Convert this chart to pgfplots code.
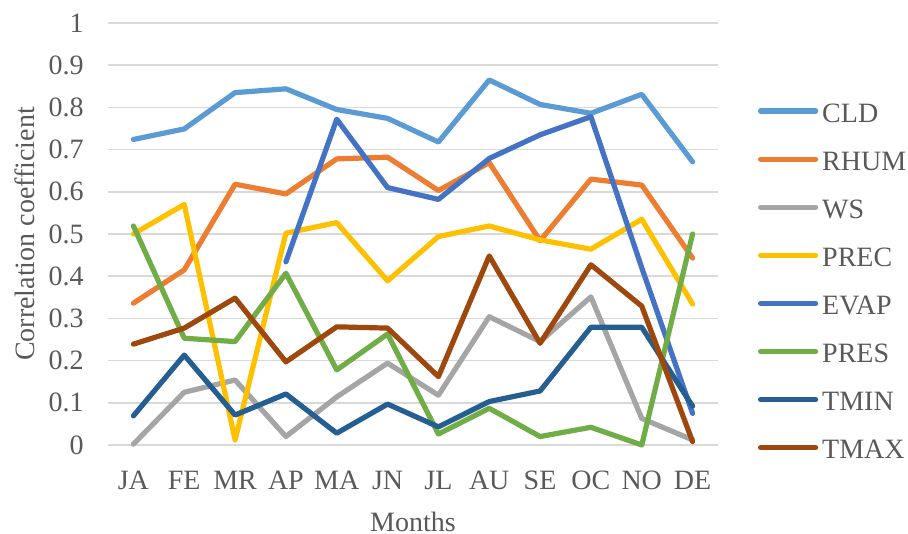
\documentclass[border=0pt]{standalone}
\usepackage{fontspec}
\setmainfont{Liberation Serif}
\usepackage{pgfplots}
\pgfplotsset{compat=1.18}

\definecolor{cCLD}{HTML}{5B9BD5}
\definecolor{cRHUM}{HTML}{ED7D31}
\definecolor{cWS}{HTML}{A5A5A5}
\definecolor{cPREC}{HTML}{FFC000}
\definecolor{cEVAP}{HTML}{4472C4}
\definecolor{cPRES}{HTML}{70AD47}
\definecolor{cTMIN}{HTML}{255E91}
\definecolor{cTMAX}{HTML}{9E480E}
\definecolor{txtgray}{HTML}{595959}
\definecolor{gridgray}{HTML}{D9D9D9}

\newcommand{\chartfont}{\fontsize{14bp}{16bp}\selectfont}

\begin{document}
\begin{tikzpicture}
\path[use as bounding box] (-54bp,-44.5bp) rectangle (400bp,222.5bp);
\begin{axis}[
  at={(0,0)}, anchor=south west,
  scale only axis,
  width=305bp, height=211bp,
  xmin=-0.5, xmax=11.5,
  ymin=0, ymax=1,
  clip=false,
  xtick={0,...,11},
  xticklabels={JA,FE,MR,AP,MA,JN,JL,AU,SE,OC,NO,DE},
  ytick={0,0.1,0.2,0.3,0.4,0.5,0.6,0.7,0.8,0.9,1},
  /pgf/number format/fixed,
  /pgf/number format/precision=1,
  /pgf/number format/assume math mode=true,
  axis line style={draw=none},
  major tick length=0pt,
  ymajorgrids,
  major grid style={color=gridgray, line width=0.75bp},
  tick label style={font=\chartfont, text=txtgray, inner sep=0pt},
  xticklabel style={anchor=base, yshift=-22bp},
  yticklabel style={anchor=east, xshift=-12bp},
  xlabel={Months},
  ylabel={Correlation coefficient},
  label style={font=\chartfont, text=txtgray, inner sep=0pt},
  xlabel style={at={(axis description cs:0.5,0)}, anchor=base, yshift=-43bp},
  ylabel style={at={(axis description cs:-0.1213,0.5)}, anchor=base},
  every axis plot/.append style={line width=2.6bp, line cap=round, line join=round},
  legend cell align=left,
  legend style={
    at={(axis description cs:1.0656,0.8123)}, anchor=north west,
    draw=none, fill=none, inner sep=0pt, outer sep=0pt,
    font=\chartfont, text=txtgray,
    nodes={inner sep=0pt, text height=10bp, text depth=0bp},
    row sep=14.05bp,
    /tikz/every odd column/.style={column sep=2bp},
  },
  legend image code/.code={\draw[#1, line width=2.6bp, line cap=round] (0bp,0.6bp) -- (27.5bp,0.6bp);},
]
\addplot[color=cCLD] coordinates {(0,0.724) (1,0.749) (2,0.835) (3,0.844) (4,0.795) (5,0.774) (6,0.718) (7,0.865) (8,0.807) (9,0.786) (10,0.831) (11,0.671)};
\addlegendentry{CLD}
\addplot[color=cRHUM] coordinates {(0,0.336) (1,0.415) (2,0.618) (3,0.595) (4,0.678) (5,0.682) (6,0.603) (7,0.669) (8,0.484) (9,0.630) (10,0.616) (11,0.443)};
\addlegendentry{RHUM}
\addplot[color=cWS] coordinates {(0,0.002) (1,0.125) (2,0.154) (3,0.020) (4,0.114) (5,0.194) (6,0.118) (7,0.304) (8,0.245) (9,0.351) (10,0.063) (11,0.012)};
\addlegendentry{WS}
\addplot[color=cPREC] coordinates {(0,0.500) (1,0.570) (2,0.012) (3,0.502) (4,0.527) (5,0.389) (6,0.494) (7,0.519) (8,0.486) (9,0.464) (10,0.535) (11,0.334)};
\addlegendentry{PREC}
\addplot[color=cEVAP] coordinates {(3,0.434) (4,0.772) (5,0.610) (6,0.582) (7,0.679) (8,0.735) (9,0.778) (10,0.420) (11,0.075)};
\addlegendentry{EVAP}
\addplot[color=cPRES] coordinates {(0,0.519) (1,0.253) (2,0.245) (3,0.407) (4,0.178) (5,0.263) (6,0.026) (7,0.087) (8,0.020) (9,0.042) (10,0.000) (11,0.500)};
\addlegendentry{PRES}
\addplot[color=cTMIN] coordinates {(0,0.069) (1,0.213) (2,0.071) (3,0.121) (4,0.028) (5,0.097) (6,0.043) (7,0.103) (8,0.128) (9,0.279) (10,0.279) (11,0.092)};
\addlegendentry{TMIN}
\addplot[color=cTMAX] coordinates {(0,0.239) (1,0.277) (2,0.348) (3,0.197) (4,0.280) (5,0.277) (6,0.162) (7,0.448) (8,0.241) (9,0.427) (10,0.329) (11,0.008)};
\addlegendentry{TMAX}
\end{axis}
\end{tikzpicture}
\end{document}
